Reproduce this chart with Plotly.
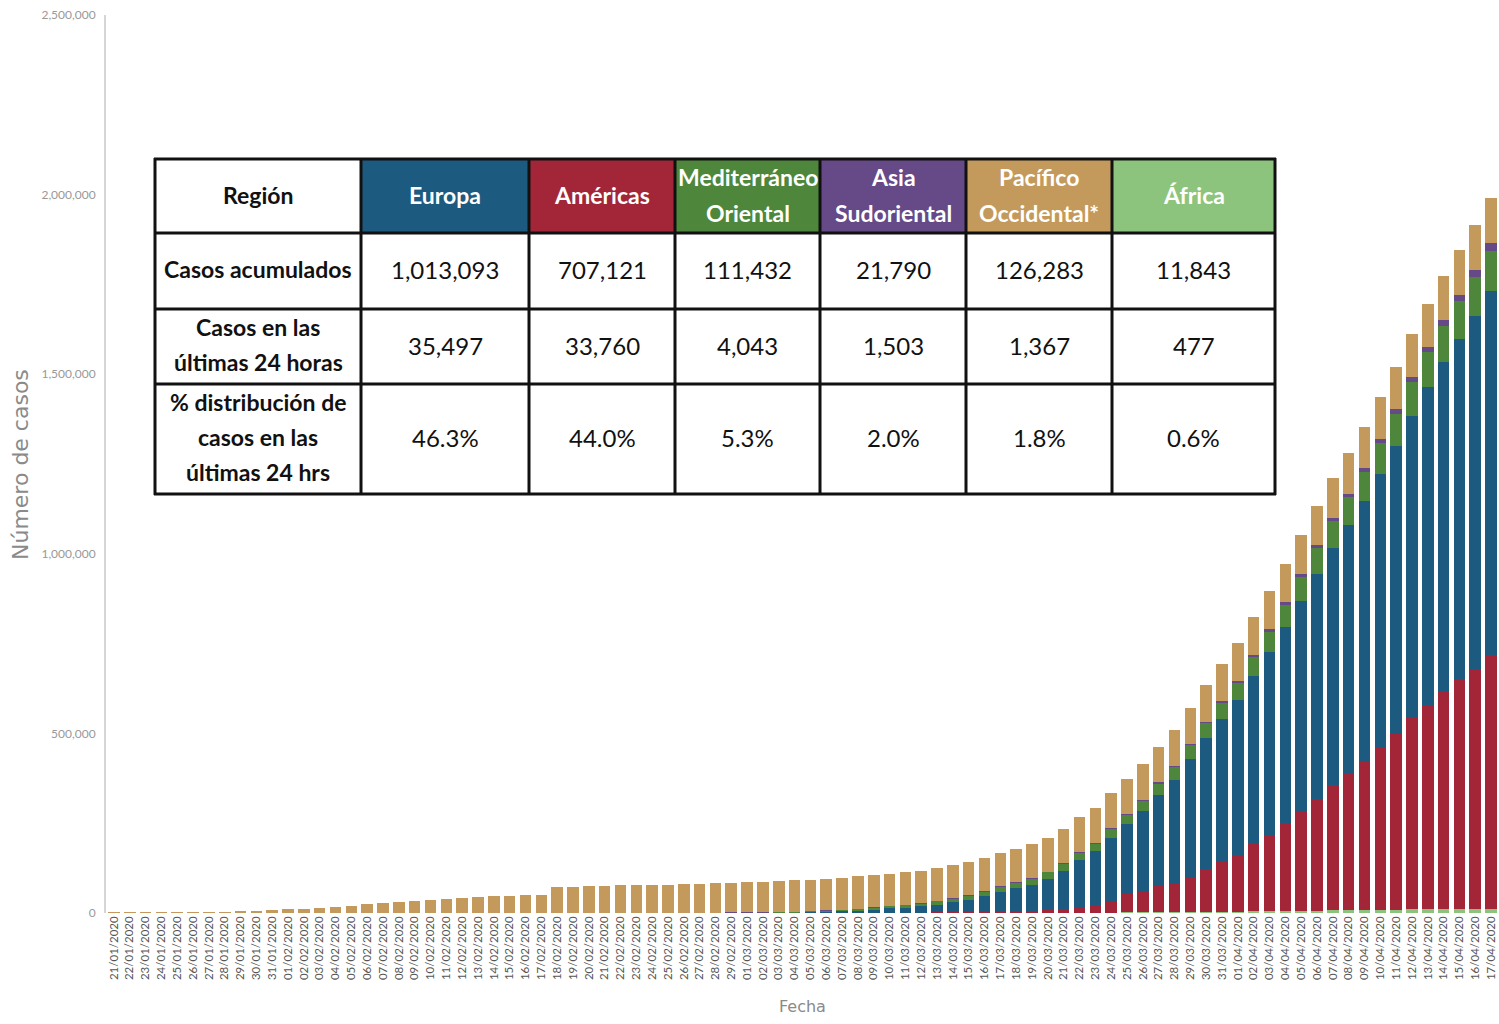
import pandas as pd
import plotly.graph_objects as go

# ---------------- DATOS ----------------
fechas = pd.date_range("2020-01-21", periods=88, freq="D").strftime("%d/%m/%Y").tolist()

africa = [0]*36 + [1, 1, 1, 1, 1, 1, 2, 3, 4, 5, 8, 10, 12, 15, 20, 25, 40, 60, 90, 150,
          200, 280, 380, 480, 600, 800, 1000, 1200, 1500, 1700, 2000, 2400, 2800, 3200,
          3600, 4000, 4500, 5000, 5500, 6000, 6500, 7000, 7500, 8000, 8600, 9200, 9800,
          10300, 10700, 11100, 11400, 11843]

americas = [0, 1, 1, 1, 2, 2, 3, 5, 7, 7, 8, 9, 10, 11, 15, 16, 16, 17, 17, 17, 17, 17,
            18, 19, 22, 22, 22, 22, 29, 29, 30, 30, 47, 48, 50, 53, 55, 58, 60, 65, 70,
            90, 100, 110, 150, 200, 250, 350, 450, 600, 800, 1100, 1600, 2300, 2900, 3500,
            4300, 5200, 6300, 8000, 11000, 14500, 17500, 33000, 51000, 58500, 72000, 79000,
            96000, 119000, 140000, 157000, 187000, 211000, 246000, 274000, 311000, 349500,
            381500, 413000, 451500, 490500, 534500, 567500, 607500, 639000, 667500, 707121]

europa = [0, 0, 0, 0, 0, 0, 3, 4, 4, 8, 10, 14, 22, 23, 25, 27, 28, 30, 31, 33, 37, 41,
          43, 46, 46, 46, 46, 45, 45, 46, 46, 47, 47, 64, 124, 215, 325, 450, 600, 850,
          1100, 1400, 1800, 2200, 3000, 4000, 5300, 7000, 9200, 12000, 14000, 17000,
          21650, 27000, 34200, 42770, 54310, 63250, 72290, 87210, 106120, 132190, 152790,
          175330, 193910, 224180, 254980, 289860, 329080, 364040, 395620, 430890, 467530,
          509950, 544200, 589040, 627260, 659760, 690220, 725160, 762300, 801350, 839710,
          885190, 915080, 948560, 983220, 1013093]

mediterraneo = [0]*10 + [4, 4, 5, 5, 5, 5, 5, 5, 7, 7, 7, 7, 8, 8, 8, 8, 9, 9, 9, 9, 9, 9,
                10, 30, 70, 130, 180, 270, 390, 500, 700, 1000, 1300, 1700, 2500, 3100,
                4000, 5000, 6000, 7000, 8300, 9200, 10200, 11400, 12800, 14000, 15000,
                16200, 17400, 18800, 20300, 21800, 23300, 25000, 27000, 29500, 32200,
                35300, 40000, 43500, 47500, 51000, 55000, 59000, 63000, 67000, 71000,
                74500, 78000, 82000, 86000, 89500, 93500, 97500, 101000, 104500, 108000,
                111432]

asia_sud = [0, 2, 2, 4, 5, 5, 5, 8, 14, 14, 14, 19, 19, 21, 22, 25, 25, 28, 28, 32, 32, 32,
            32, 33, 33, 34, 34, 35, 35, 35, 36, 37, 37, 38, 38, 40, 40, 42, 45, 45, 45, 45,
            50, 50, 55, 60, 65, 70, 75, 80, 90, 100, 150, 200, 250, 300, 400, 480, 560, 650,
            750, 880, 1050, 1300, 1550, 1800, 2200, 2500, 2900, 3300, 3800, 4300, 4800,
            5500, 6300, 7000, 8000, 8800, 9700, 10900, 12000, 13400, 14600, 15800, 17000,
            18400, 20000, 21790]

pacifico = [278, 278, 309, 571, 830, 1297, 1985, 2761, 4537, 5997, 7736, 9720, 11821,
            14411, 17238, 20471, 24363, 28060, 31211, 34598, 37251, 40235, 42747, 44730,
            46550, 48548, 50054, 51286, 71311, 73213, 75083, 75625, 76628, 77614, 78529,
            78893, 79639, 80289, 81199, 82192, 83488, 84601, 85696, 86807, 87381, 87959,
            88569, 89497, 89849, 89882, 90492, 90894, 91408, 91798, 92299, 92797, 93301,
            93700, 94200, 94700, 95300, 95900, 96500, 97100, 97800, 98500, 99300, 100100,
            100900, 101800, 102700, 103700, 104800, 106000, 107300, 108600, 110000, 111400,
            112800, 114300, 115800, 117300, 118800, 120300, 121800, 123300, 124800, 126283]

# ---------------- TABLA ----------------
regiones = [["Europa"], ["Américas"], ["Mediterráneo", "Oriental"], ["Asia", "Sudoriental"],
            ["Pacífico", "Occidental*"], ["África"]]
colores = ["#1d5a80", "#a22638", "#4e873b", "#664987", "#c39a5b", "#8cc47d"]
filas = [["Casos acumulados"], ["Casos en las", "últimas 24 horas"],
         ["% distribución de", "casos en las", "últimas 24 hrs"]]
casos_acumulados = ["1,013,093", "707,121", "111,432", "21,790", "126,283", "11,843"]
casos_24h = ["35,497", "33,760", "4,043", "1,503", "1,367", "477"]
pct_24h = ["46.3%", "44.0%", "5.3%", "2.0%", "1.8%", "0.6%"]

# ---------------- GRÁFICO ----------------
series = [("África", africa, colores[5]), ("Américas", americas, colores[1]),
          ("Europa", europa, colores[0]), ("Mediterráneo Oriental", mediterraneo, colores[2]),
          ("Asia Sudoriental", asia_sud, colores[3]), ("Pacífico Occidental", pacifico, colores[4])]

fig = go.Figure()
for nombre, valores, color in series:
    fig.add_trace(go.Bar(x=fechas, y=valores, name=nombre, marker_color=color,
                         marker_line_width=0))

W, H = 1499, 1024
L, R, T, B = 106, 0, 15, 111
pw, ph = W - L - R, H - T - B


def px(x):
    return (x - L) / pw


def py(y):
    return (H - B - y) / ph


shapes = []
annotations = []

# tabla: geometría en pixeles
col_x = [155, 361, 529, 675, 820, 966, 1112, 1275]
row_y = [159, 233, 309, 384, 494]

shapes.append(dict(type="rect", xref="paper", yref="paper", x0=px(col_x[0]), x1=px(col_x[-1]),
                   y0=py(row_y[0]), y1=py(row_y[-1]), fillcolor="white", line_width=0, layer="above"))
for i, c in enumerate(colores):
    shapes.append(dict(type="rect", xref="paper", yref="paper", x0=px(col_x[i + 1]), x1=px(col_x[i + 2]),
                       y0=py(row_y[0]), y1=py(row_y[1]), fillcolor=c, line_width=0, layer="above"))
for x in col_x:
    shapes.append(dict(type="line", xref="paper", yref="paper", x0=px(x), x1=px(x),
                       y0=py(row_y[0] - 1), y1=py(row_y[-1] + 1), line=dict(color="#111", width=3), layer="above"))
for y in row_y:
    shapes.append(dict(type="line", xref="paper", yref="paper", x0=px(col_x[0] - 1), x1=px(col_x[-1] + 1),
                       y0=py(y), y1=py(y), line=dict(color="#111", width=3), layer="above"))

fuente = "Lato"


def texto(x, y, t, size, color="#111", weight="bold"):
    annotations.append(dict(xref="paper", yref="paper", x=px(x), y=py(y), text=t, showarrow=False,
                            xanchor="center", yanchor="middle",
                            font=dict(family=fuente, size=size, color=color, weight=weight)))


def lineas(x, y_centro, partes, paso, size, color="#111"):
    n = len(partes)
    for k, p in enumerate(partes):
        texto(x, y_centro + (k - (n - 1) / 2) * paso, p, size, color)


centros_x = [(col_x[i] + col_x[i + 1]) / 2 for i in range(len(col_x) - 1)]
centros_y = [(row_y[i] + row_y[i + 1]) / 2 for i in range(len(row_y) - 1)]

lineas(centros_x[0], centros_y[0] - 1, ["Región"], 37, 23)
for i, reg in enumerate(regiones):
    lineas(centros_x[i + 1], centros_y[0] - 1, reg, 37, 23, color="white")
for j, fila in enumerate(filas):
    lineas(centros_x[0], centros_y[j + 1] - 2, fila, 35, 23)
for j, vals in enumerate([casos_acumulados, casos_24h, pct_24h]):
    for i, v in enumerate(vals):
        texto(centros_x[i + 1], centros_y[j + 1] - 1, v, 24, weight="normal")

# títulos de ejes
annotations.append(dict(xref="paper", yref="paper", x=px(802), y=py(1007), text="Fecha", showarrow=False,
                        font=dict(family="DejaVu Sans", size=16, color="#8a8a8a"),
                        xanchor="center", yanchor="middle"))
annotations.append(dict(xref="paper", yref="paper", x=px(20), y=py(465), text="Número de casos",
                        showarrow=False, textangle=-90,
                        font=dict(family="DejaVu Sans", size=22, color="#8a8a8a"),
                        xanchor="center", yanchor="middle"))

fig.update_layout(
    width=W, height=H,
    margin=dict(l=L, r=R, t=T, b=B),
    barmode="stack", bargap=0.27,
    showlegend=False,
    plot_bgcolor="white", paper_bgcolor="white",
    shapes=shapes, annotations=annotations,
    font=dict(family=fuente),
)
fig.update_yaxes(range=[0, 2500000], tickvals=[0, 500000, 1000000, 1500000, 2000000, 2500000],
                 tickformat=",", showgrid=False, zeroline=False,
                 showline=True, linecolor="#d6d6d6", linewidth=2,
                 tickfont=dict(size=12, color="#999"), ticks="", ticklabelstandoff=6)
fig.update_xaxes(type="category", tickangle=-90, tickmode="linear", dtick=1, showgrid=False,
                 showline=False, tickfont=dict(size=11.5, color="#555"), ticks="")

fig.write_html("out.html", config={"displayModeBar": False},
               post_script="document.body.style.margin='0px';")
